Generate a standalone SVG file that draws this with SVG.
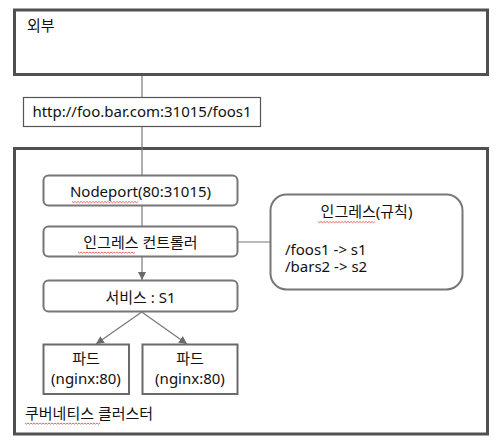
<svg xmlns="http://www.w3.org/2000/svg" width="503" height="448" viewBox="0 0 503 448">
<style>
text{font-family:"Noto Sans","Noto Sans CJK KR",sans-serif;font-size:15px;fill:#111}
.big{fill:#fff;stroke:#505050;stroke-width:3}
.rb{fill:#fff;stroke:#777;stroke-width:2}
.pod{fill:#fff;stroke:#6a6a6a;stroke-width:2}
.url{fill:#fff;stroke:#555;stroke-width:1.2}
.ln{stroke:#777;stroke-width:1.2;fill:none}
.sq{stroke:#e04040;stroke-width:0.8;fill:none}
</style>
<defs>
<marker id="ah" viewBox="0 0 10 10" refX="10" refY="5" markerWidth="8" markerHeight="8" markerUnits="userSpaceOnUse" orient="auto">
<path d="M0,0L10,5L0,10z" fill="#6a6a6a"/>
</marker>
</defs>
<g id="external"><rect class="big" x="14.5" y="10" width="473" height="64.5"/><text x="27" y="31">외부</text></g>
<g id="cluster"><rect class="big" x="14.5" y="148.5" width="473" height="285.5"/><text x="25" y="419">쿠버네티스 클러스터</text></g>
<g id="connectors">
<line class="ln" x1="142" y1="76" x2="142" y2="97"/>
<line class="ln" x1="142" y1="127" x2="142" y2="175.5"/>
<line class="ln" x1="142" y1="205.5" x2="142" y2="226.5"/>
<line class="ln" x1="142" y1="257" x2="142" y2="280" marker-end="url(#ah)"/>
<line class="ln" x1="237.5" y1="242" x2="270" y2="242"/>
<line class="ln" x1="141.7" y1="312" x2="96" y2="344" marker-end="url(#ah)"/>
<line class="ln" x1="141.7" y1="312" x2="187" y2="344" marker-end="url(#ah)"/>
</g>
<g id="url"><rect class="url" x="23.5" y="97.5" width="237" height="29"/><text x="142" y="117" text-anchor="middle">http://foo.bar.com:31015/foos1</text></g>
<g id="nodeport"><rect class="rb" x="43.5" y="175.5" width="194" height="30" rx="5"/><text x="140.5" y="197" text-anchor="middle">Nodeport(80:31015)</text></g>
<g id="ingress-controller"><rect class="rb" x="43.5" y="226.5" width="194" height="30" rx="5"/><text x="140.5" y="248" text-anchor="middle">인그레스 컨트롤러</text></g>
<g id="service"><rect class="rb" x="43.5" y="280.5" width="194" height="31" rx="5"/><text x="140.5" y="303" text-anchor="middle">서비스 : S1</text></g>
<g id="pod1"><rect class="pod" x="43.5" y="344.5" width="85.5" height="49.5"/><text x="86" y="364" text-anchor="middle">파드</text><text x="86" y="384" text-anchor="middle">(nginx:80)</text></g>
<g id="pod2"><rect class="pod" x="142.5" y="344.5" width="95" height="49.5"/><text x="190" y="364" text-anchor="middle">파드</text><text x="190" y="384" text-anchor="middle">(nginx:80)</text></g>
<g id="ingress-rules"><rect class="rb" x="270.5" y="194.5" width="192" height="95" rx="16"/><text x="366.5" y="217" text-anchor="middle">인그레스(규칙)</text><text x="285" y="255">/foos1 -&gt; s1</text><text x="285" y="271.5">/bars2 -&gt; s2</text></g>
<g id="spellcheck">
<path class="sq" d="M72,201.5 l1.5,1.2 l1.5,-1.2 l1.5,1.2 l1.5,-1.2 l1.5,1.2 l1.5,-1.2 l1.5,1.2 l1.5,-1.2 l1.5,1.2 l1.5,-1.2 l1.5,1.2 l1.5,-1.2 l1.5,1.2 l1.5,-1.2 l1.5,1.2 l1.5,-1.2 l1.5,1.2 l1.5,-1.2 l1.5,1.2 l1.5,-1.2 l1.5,1.2 l1.5,-1.2 l1.5,1.2 l1.5,-1.2 l1.5,1.2 l1.5,-1.2 l1.5,1.2 l1.5,-1.2 l1.5,1.2 l1.5,-1.2 l1.5,1.2 l1.5,-1.2 l1.5,1.2 l1.5,-1.2 l1.5,1.2 l1.5,-1.2 l1.5,1.2 l1.5,-1.2 l1.5,1.2 l1.5,-1.2 l1.5,1.2 l1.5,-1.2 l1.5,1.2 l1.5,-1.2"/>
<path class="sq" d="M78,252 l1.5,1.2 l1.5,-1.2 l1.5,1.2 l1.5,-1.2 l1.5,1.2 l1.5,-1.2 l1.5,1.2 l1.5,-1.2 l1.5,1.2 l1.5,-1.2 l1.5,1.2 l1.5,-1.2 l1.5,1.2 l1.5,-1.2 l1.5,1.2 l1.5,-1.2 l1.5,1.2 l1.5,-1.2 l1.5,1.2 l1.5,-1.2 l1.5,1.2 l1.5,-1.2 l1.5,1.2 l1.5,-1.2 l1.5,1.2 l1.5,-1.2 l1.5,1.2 l1.5,-1.2 l1.5,1.2 l1.5,-1.2 l1.5,1.2 l1.5,-1.2 l1.5,1.2 l1.5,-1.2 l1.5,1.2 l1.5,-1.2 l1.5,1.2 l1.5,-1.2"/>
<path class="sq" d="M318,221.5 l1.5,1.2 l1.5,-1.2 l1.5,1.2 l1.5,-1.2 l1.5,1.2 l1.5,-1.2 l1.5,1.2 l1.5,-1.2 l1.5,1.2 l1.5,-1.2 l1.5,1.2 l1.5,-1.2 l1.5,1.2 l1.5,-1.2 l1.5,1.2 l1.5,-1.2 l1.5,1.2 l1.5,-1.2 l1.5,1.2 l1.5,-1.2 l1.5,1.2 l1.5,-1.2 l1.5,1.2 l1.5,-1.2 l1.5,1.2 l1.5,-1.2 l1.5,1.2 l1.5,-1.2 l1.5,1.2 l1.5,-1.2 l1.5,1.2 l1.5,-1.2 l1.5,1.2 l1.5,-1.2 l1.5,1.2 l1.5,-1.2 l1.5,1.2 l1.5,-1.2"/>
<path class="sq" d="M25,423 l1.5,1.2 l1.5,-1.2 l1.5,1.2 l1.5,-1.2 l1.5,1.2 l1.5,-1.2 l1.5,1.2 l1.5,-1.2 l1.5,1.2 l1.5,-1.2 l1.5,1.2 l1.5,-1.2 l1.5,1.2 l1.5,-1.2 l1.5,1.2 l1.5,-1.2 l1.5,1.2 l1.5,-1.2 l1.5,1.2 l1.5,-1.2 l1.5,1.2 l1.5,-1.2 l1.5,1.2 l1.5,-1.2 l1.5,1.2 l1.5,-1.2 l1.5,1.2 l1.5,-1.2 l1.5,1.2 l1.5,-1.2 l1.5,1.2 l1.5,-1.2 l1.5,1.2 l1.5,-1.2 l1.5,1.2 l1.5,-1.2 l1.5,1.2 l1.5,-1.2 l1.5,1.2 l1.5,-1.2 l1.5,1.2 l1.5,-1.2 l1.5,1.2 l1.5,-1.2 l1.5,1.2 l1.5,-1.2 l1.5,1.2 l1.5,-1.2 l1.5,1.2 l1.5,-1.2"/>
</g>
</svg>
